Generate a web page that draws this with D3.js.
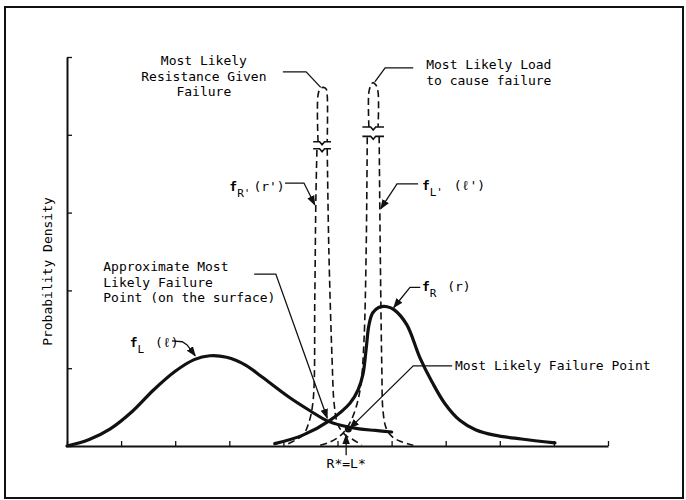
<!DOCTYPE html>
<html>
<head>
<meta charset="utf-8">
<script src="https://cdn.jsdelivr.net/npm/d3@7"></script>
<style>
  html, body { margin: 0; padding: 0; background: #fff; }
  text { font-family: "DejaVu Sans Mono", "Liberation Mono", monospace; fill: #000; }
</style>
</head>
<body>
<svg id="chart" width="686" height="500"></svg>
<script>
// Load / resistance densities with the narrow "given failure" densities

const width = 686;
const height = 500;

// axis ticks (no labels in the original figure)
const xTicks = [0, 1, 2, 3, 4, 5, 6, 7, 8, 9, 10];
const yTicks = [0, 1, 2, 3, 4, 5];

// f_L(l) - load density (heavy line)
const loadCurve = [
    [0, 0], [0.4, 0.08], [0.8, 0.22], [1.2, 0.44], [1.6, 0.72], [2.0, 0.96], [2.35, 1.11],
    [2.64, 1.16], [2.95, 1.14], [3.3, 1.04], [3.6, 0.89], [4.1, 0.63], [4.5, 0.45],
    [4.82, 0.32], [5.1, 0.26], [5.4, 0.22], [5.7, 0.20], [6.0, 0.18]
];

// f_R(r) - resistance density (heavy line)
const resistCurve = [
    [3.84, 0.03], [4.36, 0.14], [4.86, 0.33], [5.23, 0.55], [5.38, 0.72], [5.47, 0.92],
    [5.53, 1.25], [5.58, 1.55], [5.65, 1.71], [5.76, 1.78], [5.92, 1.79], [6.05, 1.75],
    [6.28, 1.56], [6.52, 1.14], [6.75, 0.82], [6.98, 0.55], [7.26, 0.33], [7.55, 0.21],
    [7.9, 0.14], [8.4, 0.09], [9.02, 0.04]
];

// f_R'(r') - resistance given failure (dashed, broken peak)
const resistFailLeft = [[4.09, 0.03], [4.36, 0.14], [4.47, 0.30], [4.55, 0.59], [4.58, 1.88], [4.60, 3.16], [4.62, 3.82]];
const resistFailRight = [[4.81, 3.82], [4.84, 2.52], [4.90, 1.11], [4.94, 0.53], [5.01, 0.27], [5.16, 0.13], [5.29, 0.08], [5.45, 0.01]];
const resistFailTop = [[4.64, 3.91], [4.64, 4.51], [4.68, 4.59], [4.73, 4.61], [4.79, 4.59], [4.81, 4.51], [4.81, 3.91]];

// f_L'(l') - load given failure (dashed, broken peak)
const loadFailLeft = [[4.68, 0.01], [4.86, 0.05], [5.08, 0.15], [5.23, 0.30], [5.34, 0.49], [5.43, 0.78], [5.49, 1.36], [5.53, 2.52], [5.55, 3.98]];
const loadFailRight = [[5.77, 3.98], [5.79, 2.52], [5.82, 0.98], [5.84, 0.46], [5.90, 0.23], [6.01, 0.12], [6.16, 0.06], [6.40, 0.01]];
const loadFailTop = [[5.58, 4.10], [5.58, 4.55], [5.62, 4.64], [5.65, 4.67], [5.71, 4.64], [5.75, 4.55], [5.75, 4.10]];

// axis break marks: [x0, x1, y]
const breakMarks = [
    [4.55, 4.88, 3.91], [4.55, 4.88, 3.82],
    [5.46, 5.86, 4.10], [5.46, 5.86, 3.98]
];

// leader lines (data units); arrow = filled head at last point
const leaders = [
    {pts: [[3.99, 4.81], [4.42, 4.81], [4.69, 4.61]], arrow: false},
    {pts: [[6.40, 4.86], [5.88, 4.86], [5.69, 4.68]], arrow: false},
    {pts: [[4.03, 3.38], [4.38, 3.38], [4.58, 3.10]], arrow: true},
    {pts: [[6.49, 3.37], [6.10, 3.37], [5.80, 3.05]], arrow: true},
    {pts: [[3.46, 2.21], [3.86, 2.21], [4.81, 0.36]], arrow: true},
    {pts: [[6.53, 2.04], [6.34, 2.04], [6.04, 1.78]], arrow: true},
    {pts: [[1.94, 1.35], [2.13, 1.34], [2.22, 1.30], [2.37, 1.16]], arrow: true},
    {pts: [[7.12, 1.03], [6.40, 1.03], [5.23, 0.23]], arrow: true},
    {pts: [[5.16, -0.12], [5.16, 0.14]], arrow: true}
];

// plain text blocks: [x, y, text, anchor]
const textLines = [
    [2.53, 4.90, "Most Likely", "middle"],
    [2.53, 4.69, "Resistance Given", "middle"],
    [2.53, 4.50, "Failure", "middle"],
    [6.64, 4.85, "Most Likely Load", "start"],
    [6.64, 4.64, "to cause failure", "start"],
    [0.67, 2.25, "Approximate Most", "start"],
    [0.67, 2.04, "Likely Failure", "start"],
    [0.67, 1.85, "Point (on the surface)", "start"],
    [7.17, 0.98, "Most Likely Failure Point", "start"],
    [5.16, -0.28, "R*=L*", "middle"]
];

// density labels: [x, y, subscript, argument]
const densityLabels = [
    [3.00, 3.28, "R'", "(r')"],
    [6.56, 3.29, "L'", " (\u2113')"],
    [6.56, 1.99, "R", " (r)"],
    [1.16, 1.27, "L", " (\u2113)"]
];

const svg = d3.select("#chart");

const x = d3.scaleLinear().domain([0, 10]).range([67, 608]);
const y = d3.scaleLinear().domain([0, 5]).range([446, 57]);

// outer frame
svg.append("rect")
    .attr("x", 5).attr("y", 7)
    .attr("width", 678).attr("height", 491)
    .attr("fill", "none")
    .attr("stroke", "#111")
    .attr("stroke-width", 2);

const defs = svg.append("defs");
defs.append("marker")
    .attr("id", "arrow")
    .attr("viewBox", "0 0 10 10")
    .attr("refX", 9).attr("refY", 5)
    .attr("markerWidth", 10).attr("markerHeight", 10)
    .attr("markerUnits", "userSpaceOnUse")
    .attr("orient", "auto")
    .append("path")
    .attr("d", "M0,1.2 L10,5 L0,8.8 Z")
    .attr("fill", "#111");

// axes, ticks pointing inward
const xAxis = svg.append("g")
    .attr("transform", `translate(0,${y(0)})`)
    .call(d3.axisBottom(x).tickValues(xTicks).tickFormat("").tickSizeInner(-5).tickSizeOuter(0));
const yAxis = svg.append("g")
    .attr("transform", `translate(${x(0)},0)`)
    .call(d3.axisLeft(y).tickValues(yTicks).tickFormat("").tickSizeInner(-5).tickSizeOuter(0));
[xAxis, yAxis].forEach(a => {
    a.select(".domain").attr("stroke", "#111").attr("stroke-width", 2);
    a.selectAll(".tick line").attr("stroke", "#111").attr("stroke-width", 1.3);
});

svg.append("text")
    .attr("transform", `translate(52,${(y(0) + y(5)) / 2 + 20}) rotate(-90)`)
    .attr("text-anchor", "middle")
    .attr("font-size", "13px")
    .text("Probability Density");

const smooth = d3.line()
    .x(d => x(d[0]))
    .y(d => y(d[1]))
    .curve(d3.curveCatmullRom.alpha(0.5));

// dashed "given failure" densities
[resistFailLeft, resistFailRight, resistFailTop, loadFailLeft, loadFailRight, loadFailTop].forEach(c => {
    svg.append("path")
        .attr("d", smooth(c))
        .attr("fill", "none")
        .attr("stroke", "#111")
        .attr("stroke-width", 1.6)
        .attr("stroke-dasharray", "7,4");
});

// break marks with a small notch
breakMarks.forEach(b => {
    const x0 = x(b[0]), x1 = x(b[1]), yy = y(b[2]);
    const m = (x0 + x1) / 2;
    svg.append("path")
        .attr("d", `M${x0},${yy} H${m - 2.5} L${m},${yy + 3} L${m + 2.5},${yy} H${x1}`)
        .attr("fill", "none")
        .attr("stroke", "#111")
        .attr("stroke-width", 1.6);
});

// heavy densities
[loadCurve, resistCurve].forEach(c => {
    svg.append("path")
        .attr("d", smooth(c))
        .attr("fill", "none")
        .attr("stroke", "#111")
        .attr("stroke-width", 3.2)
        .attr("stroke-linecap", "round")
        .attr("stroke-linejoin", "round");
});

// leader lines
const straight = d3.line().x(d => x(d[0])).y(d => y(d[1]));
leaders.forEach(l => {
    svg.append("path")
        .attr("d", straight(l.pts))
        .attr("fill", "none")
        .attr("stroke", "#111")
        .attr("stroke-width", 1.3)
        .attr("marker-end", l.arrow ? "url(#arrow)" : null);
});

// dot at the most likely failure point
svg.append("circle")
    .attr("cx", x(5.2)).attr("cy", y(0.22))
    .attr("r", 3.5)
    .attr("fill", "#111");

// text
textLines.forEach(t => {
    svg.append("text")
        .attr("x", x(t[0]))
        .attr("y", y(t[1]))
        .attr("text-anchor", t[3])
        .attr("font-size", "13px")
        .text(t[2]);
});

densityLabels.forEach(d => {
    const t = svg.append("text")
        .attr("x", x(d[0]))
        .attr("y", y(d[1]))
        .attr("font-size", "13px");
    t.append("tspan").attr("font-weight", "bold").text("f");
    t.append("tspan").attr("dy", 6).attr("font-size", "11px").text(d[2]);
    t.append("tspan").attr("dy", -6).attr("dx", 3).text(d[3]);
});
</script>
</body>
</html>
